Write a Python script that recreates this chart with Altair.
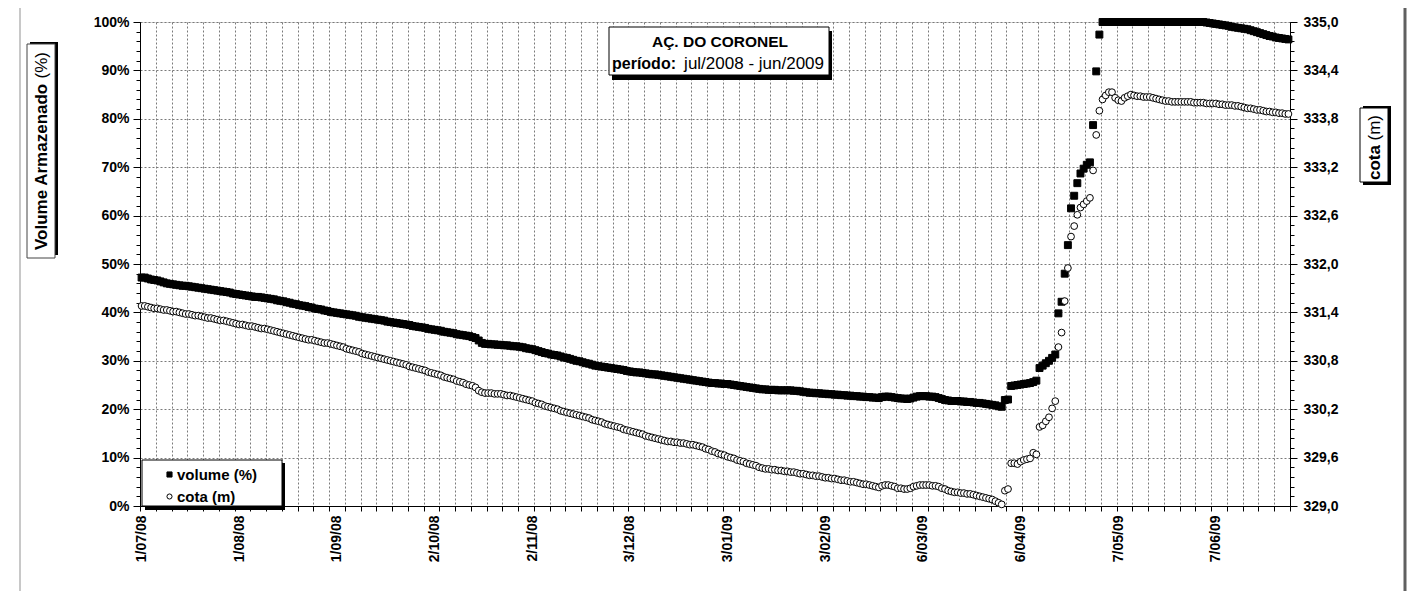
import altair as alt
import pandas as pd

# ---------------- data (daily, 1/07/2008 .. 30/06/2009) ----------------
volume = [
    47.2, 47.2, 47.0, 46.8, 46.7, 46.6, 46.4, 46.2, 46.0, 45.9,
    45.8, 45.7, 45.6, 45.5, 45.5, 45.4, 45.3, 45.2, 45.1, 45.0, 44.9,
    44.8, 44.7, 44.6, 44.5, 44.4, 44.3, 44.2, 44.1, 43.9, 43.8,
    43.7, 43.6, 43.5, 43.4, 43.3, 43.2, 43.2, 43.1, 43.0, 42.9, 42.8,
    42.7, 42.5, 42.4, 42.3, 42.1, 42.0, 41.8, 41.7, 41.5, 41.4,
    41.3, 41.1, 41.0, 40.8, 40.7, 40.6, 40.4, 40.3, 40.1, 40.0, 39.9,
    39.8, 39.7, 39.6, 39.5, 39.4, 39.3, 39.1, 39.0, 38.9, 38.8,
    38.7, 38.6, 38.5, 38.4, 38.3, 38.1, 38.0, 37.9, 37.8, 37.7, 37.6,
    37.5, 37.4, 37.2, 37.1, 37.0, 36.9, 36.8, 36.6, 36.5, 36.4,
    36.3, 36.2, 36.0, 35.9, 35.8, 35.7, 35.5, 35.4, 35.3, 35.2, 35.1,
    34.9, 34.7, 34.2, 33.7, 33.5,
    33.5, 33.4, 33.4, 33.3, 33.3, 33.2, 33.2, 33.1, 33.0, 33.0, 32.9,
    32.8, 32.6, 32.5, 32.4, 32.2,
    32.0, 31.8, 31.6, 31.5, 31.3, 31.2, 31.1, 30.9, 30.7,
    30.6, 30.4, 30.2, 30.0, 29.9, 29.7, 29.5, 29.4, 29.2, 29.0,
    28.9, 28.8, 28.7, 28.6, 28.5, 28.4, 28.3, 28.2, 28.1, 27.9, 27.8,
    27.7, 27.6, 27.6, 27.5, 27.4, 27.3, 27.2, 27.2, 27.1, 27.0, 26.9,
    26.8, 26.7, 26.6, 26.5, 26.4, 26.3, 26.2, 26.1, 26.0, 25.9,
    25.8, 25.7, 25.6, 25.5, 25.4, 25.4, 25.3, 25.3, 25.2, 25.2, 25.1,
    25.0, 24.9, 24.8, 24.7, 24.6, 24.5, 24.4, 24.3, 24.2, 24.1,
    24.1, 24.0, 24.0, 24.0, 23.9, 23.9, 23.9, 23.9, 23.9, 23.8, 23.8,
    23.7, 23.6, 23.5, 23.4, 23.4, 23.3, 23.3, 23.2, 23.2, 23.1,
    23.1, 23.0, 23.0, 22.9, 22.9, 22.8, 22.8, 22.7, 22.7, 22.6, 22.6,
    22.5, 22.5, 22.4, 22.4, 22.3, 22.5, 22.6, 22.6, 22.5, 22.4, 22.3,
    22.2, 22.2, 22.1, 22.2, 22.4, 22.6, 22.7, 22.7,
    22.7, 22.6, 22.6, 22.5, 22.3, 22.1, 21.9, 21.8, 21.7, 21.7,
    21.7, 21.6, 21.6, 21.5, 21.5, 21.4, 21.3, 21.3,
    21.2, 21.1, 21.0, 20.9, 20.8, 20.6, 20.5,
    21.9, 22.0,
    24.8, 24.9, 25.0, 25.1, 25.2, 25.3, 25.4, 25.6, 25.9,
    28.5, 29.0, 29.5, 30.0, 30.6, 31.3,
    39.8, 42.2, 48.0, 53.9, 61.5, 64.1, 66.7, 68.7, 69.7, 70.5, 71.0, 78.7, 89.8, 97.4, 100.0,
    100.0, 100.0, 100.0, 100.0, 100.0, 100.0, 100.0, 100.0, 100.0, 100.0,
    100.0, 100.0, 100.0, 100.0, 100.0, 100.0, 100.0, 100.0, 100.0, 100.0,
    100.0, 100.0, 100.0, 100.0, 100.0, 100.0, 100.0, 100.0, 100.0, 100.0,
    100.0, 100.0,
    99.9, 99.8, 99.7, 99.6, 99.5, 99.4, 99.3, 99.2, 99.0, 98.9, 98.8, 98.7, 98.6, 98.5,
    98.3, 98.1, 97.9, 97.7, 97.5, 97.3, 97.1, 97.0, 96.8, 96.7, 96.6, 96.5, 96.4,
]

cota = [
    331.48, 331.48, 331.47, 331.46, 331.45, 331.45, 331.44, 331.43, 331.43, 331.42,
    331.41, 331.41, 331.40, 331.39, 331.38, 331.38, 331.37, 331.36, 331.36, 331.35, 331.34,
    331.33, 331.33, 331.32, 331.31, 331.30, 331.30, 331.29, 331.28, 331.27, 331.26,
    331.25, 331.25, 331.24, 331.23, 331.23, 331.22, 331.21, 331.20, 331.20, 331.19, 331.18,
    331.17, 331.16, 331.15, 331.14, 331.13, 331.12, 331.11, 331.10, 331.09, 331.08,
    331.07, 331.06, 331.06, 331.05, 331.04, 331.03, 331.02, 331.02, 331.01, 331.00, 330.99,
    330.98, 330.97, 330.95, 330.94, 330.93, 330.92, 330.91, 330.89, 330.88, 330.87,
    330.86, 330.85, 330.84, 330.83, 330.82, 330.81, 330.80, 330.79, 330.78, 330.77, 330.76,
    330.75, 330.73, 330.72, 330.71, 330.70, 330.69, 330.68, 330.66, 330.65, 330.64,
    330.63, 330.62, 330.60, 330.59, 330.58, 330.57, 330.55, 330.54, 330.53, 330.51, 330.50,
    330.49, 330.47, 330.43, 330.41, 330.40,
    330.40, 330.40, 330.39, 330.39, 330.39, 330.38, 330.37, 330.37, 330.36, 330.35, 330.34,
    330.33, 330.32, 330.31, 330.30, 330.28,
    330.27, 330.26, 330.24, 330.23, 330.22, 330.21, 330.20, 330.18, 330.17,
    330.16, 330.15, 330.14, 330.13, 330.12, 330.11, 330.10, 330.09, 330.07, 330.06,
    330.05, 330.04, 330.02, 330.01, 330.00, 329.99, 329.98, 329.97, 329.95, 329.94, 329.93,
    329.92, 329.91, 329.90, 329.89, 329.87, 329.86, 329.85, 329.84, 329.83, 329.82, 329.81,
    329.80, 329.80, 329.79, 329.79, 329.78, 329.78, 329.77, 329.76, 329.76, 329.75,
    329.74, 329.73, 329.71, 329.70, 329.68, 329.67, 329.65, 329.64, 329.63, 329.61, 329.60,
    329.59, 329.57, 329.56, 329.55, 329.53, 329.52, 329.51, 329.50, 329.48, 329.47,
    329.46, 329.46, 329.45, 329.45, 329.44, 329.44, 329.43, 329.43, 329.42, 329.42, 329.41,
    329.40, 329.40, 329.39, 329.38, 329.38, 329.37, 329.37, 329.36, 329.35, 329.35,
    329.34, 329.34, 329.33, 329.32, 329.32, 329.31, 329.30, 329.30, 329.29, 329.28, 329.27,
    329.27, 329.26, 329.25, 329.24, 329.23, 329.25, 329.26, 329.26, 329.25, 329.24, 329.22,
    329.22, 329.21, 329.21, 329.22, 329.24, 329.25, 329.26, 329.26,
    329.26, 329.26, 329.25, 329.25, 329.24, 329.22, 329.21, 329.19, 329.18, 329.17,
    329.17, 329.16, 329.16, 329.15, 329.15, 329.14, 329.13, 329.12,
    329.11, 329.10, 329.09, 329.08, 329.06, 329.04, 329.02,
    329.19, 329.21,
    329.53, 329.53, 329.52, 329.55, 329.57, 329.58, 329.59, 329.66, 329.64,
    329.98, 330.00, 330.05, 330.10, 330.21, 330.30,
    330.97, 331.15, 331.54, 331.95, 332.34, 332.47, 332.61, 332.70, 332.74, 332.78,
    332.82, 333.16, 333.60, 333.90, 334.04,
    334.09, 334.13, 334.13, 334.06, 334.03, 334.02, 334.06, 334.08, 334.10, 334.09,
    334.08, 334.08, 334.07, 334.07, 334.07, 334.06, 334.05, 334.04, 334.03, 334.02,
    334.02, 334.01, 334.01, 334.01, 334.01, 334.01, 334.01, 334.01, 334.00, 334.00,
    334.00, 334.00, 333.99, 333.99, 333.99, 333.99, 333.98, 333.98, 333.97, 333.97,
    333.97, 333.96, 333.96, 333.95, 333.94, 333.93, 333.93, 333.92, 333.91, 333.91,
    333.90, 333.89, 333.89, 333.88, 333.88, 333.87, 333.87, 333.86, 333.86,
]

series_names = ["volume (%)", "cota (m)"]
label_days = [0, 31, 62, 93, 124, 155, 186, 217, 248, 279, 310, 341]
date_labels = ["1/07/08", "1/08/08", "1/09/08", "2/10/08", "2/11/08", "3/12/08",
               "3/01/09", "3/02/09", "6/03/09", "6/04/09", "7/05/09", "7/06/09"]
pct_ticks = [0, 10, 20, 30, 40, 50, 60, 70, 80, 90, 100]
cota_ticks = [329.0, 329.6, 330.2, 330.8, 331.4, 332.0, 332.6, 333.2, 333.8, 334.4, 335.0]
title_1 = "AÇ. DO CORONEL"
title_2a = "período:"
title_2b = "jul/2008 - jun/2009"

# ---------------- build tables ----------------
n = len(volume)
df_v = pd.DataFrame({"day": list(range(n)), "valor": volume, "serie": series_names[0]})
df_c = pd.DataFrame({"day": list(range(len(cota))), "valor": cota, "serie": series_names[1]})

grid_days = [5 * k - 0.5 for k in range(74)]
minor_pct = list(range(0, 101, 2))
minor_cota = [round(329 + 0.12 * k, 2) for k in range(51)]

F = "Liberation Sans"
GRID = "#7a7a7a"

xscale = alt.Scale(domain=[-0.5, 364.5], nice=False, zero=False)
yscale_v = alt.Scale(domain=[0, 100], nice=False, zero=False)
yscale_c = alt.Scale(domain=[329, 335], nice=False, zero=False)

leg = alt.Legend(title=None, orient="none", legendX=22, legendY=445, padding=0,
                 labelFont=F, labelFontWeight="bold", labelFontSize=15, labelColor="black",
                 symbolSize=26, symbolStrokeColor="black", symbolStrokeWidth=1,
                 rowPadding=6, labelOffset=0)
shape_enc = alt.Shape("serie:N", scale=alt.Scale(domain=series_names, range=["square", "circle"]), legend=leg)
fill_enc = alt.Fill("serie:N", scale=alt.Scale(domain=series_names, range=["#000000", "#ffffff"]), legend=leg)
stroke_enc = alt.Stroke("serie:N", scale=alt.Scale(domain=series_names, range=["#000000", "#000000"]), legend=leg)

arr_days = "[" + ",".join(str(d) for d in label_days) + "]"
arr_labels = "[" + ",".join("'" + s + "'" for s in date_labels) + "]"
x_label_expr = arr_labels + "[indexof(" + arr_days + ", datum.value)]"

vol_layer = alt.Chart(df_v).mark_point(size=48, strokeWidth=1, opacity=1).encode(
    x=alt.X("day:Q", scale=xscale, axis=alt.Axis(
        orient="bottom", values=grid_days, labels=False, title=None, grid=True, gridDash=[2, 2],
        gridColor=GRID, gridWidth=1, ticks=True, tickSize=5, tickColor="black",
        domain=True, domainColor="black", domainWidth=1)),
    y=alt.Y("valor:Q", scale=yscale_v, axis=alt.Axis(
        orient="left", values=pct_ticks, labelExpr="datum.value + '%'", title=None,
        grid=True, gridDash=[2, 2], gridColor=GRID, gridWidth=1,
        ticks=True, tickSize=7, tickColor="black", domain=True, domainColor="black",
        labelFont=F, labelFontWeight="bold", labelFontSize=14, labelColor="black",
        labelPadding=4)),
    shape=shape_enc,
    fill=fill_enc,
    stroke=stroke_enc,
)

cota_layer = alt.Chart(df_c).mark_point(size=46, strokeWidth=1, opacity=1).encode(
    x=alt.X("day:Q", scale=xscale, axis=alt.Axis(
        orient="bottom", values=label_days, labelExpr=x_label_expr, labelAngle=270, title=None,
        grid=False, ticks=False, domain=False, labelPadding=9,
        labelFont=F, labelFontWeight="bold", labelFontSize=14, labelColor="black",
        labelOverlap=False)),
    y=alt.Y("valor:Q", scale=yscale_c, axis=alt.Axis(
        orient="right", values=cota_ticks,
        labelExpr="replace(format(datum.value, '.1f'), '.', ',')", title=None,
        grid=False, ticks=True, tickSize=7, tickColor="black", domain=True,
        domainColor="black", labelFont=F, labelFontWeight="bold", labelFontSize=14,
        labelColor="black", labelPadding=6)),
    shape=shape_enc,
    fill=fill_enc,
    stroke=stroke_enc,
)

minor_left = alt.Chart(df_v).mark_point(opacity=0).encode(
    x=alt.X("day:Q", scale=xscale, axis=None),
    y=alt.Y("valor:Q", scale=yscale_v, axis=alt.Axis(
        orient="left", values=minor_pct, labels=False, title=None, grid=False,
        ticks=True, tickSize=4, tickColor="black", domain=False)),
)
minor_right = alt.Chart(df_c).mark_point(opacity=0).encode(
    x=alt.X("day:Q", scale=xscale, axis=None),
    y=alt.Y("valor:Q", scale=yscale_c, axis=alt.Axis(
        orient="right", values=minor_cota, labels=False, title=None, grid=False,
        ticks=True, tickSize=4, tickColor="black", domain=False)),
)

one = pd.DataFrame({"k": [0]})


def box(x1, x2, y1, y2, fill, stroke=None):
    kw = {"fill": fill}
    if stroke:
        kw.update(stroke=stroke, strokeWidth=1)
    return alt.Chart(one).mark_rect(**kw).encode(
        x=alt.value(x1), x2=alt.value(x2), y=alt.value(y1), y2=alt.value(y2))


def txt(s, x, y, size, weight="bold", align="center", angle=0, font=F):
    return alt.Chart(one).mark_text(
        text=s, font=font, fontSize=size, fontWeight=weight, align=align,
        baseline="middle", angle=angle, color="black").encode(
        x=alt.value(x), y=alt.value(y))


def rule(x1, x2, y1, y2, color, w):
    return alt.Chart(one).mark_rule(color=color, strokeWidth=w).encode(
        x=alt.value(x1), x2=alt.value(x2), y=alt.value(y1), y2=alt.value(y2))


annotations = [
    # outer frame
    rule(-120, -120, -22, 577, "#c8c8c8", 2),
    rule(-120, 1265, -18, -18, "#c0c0c0", 1),
    rule(1265, 1265, -18, 577, "#606060", 3),
    # title box
    box(472, 692, 9, 58, "#000000"),
    box(469, 689, 5, 53, "#ffffff", "#000000"),
    txt(title_1, 580, 20, 15.5),
    txt(title_2a, 472, 42, 16, align="left"),
    txt(title_2b, 684, 42, 17, weight="normal", align="right"),
    # legend box
    box(5, 145, 441, 488, "#000000"),
    box(2, 142, 438, 484, "#ffffff", "#000000"),
    # left axis title
    box(-110, -82, 20, 233, "#000000"),
    box(-113, -85, 22, 236, "#ffffff", "#444444"),
    txt("Volume Armazenado", -98, 228, 17, align="left", angle=270),
    txt("(%)", -98, 30, 17, weight="normal", align="right", angle=270),
    # right axis title
    box(1223, 1251, 84, 163, "#000000"),
    box(1220, 1248, 86, 160, "#ffffff", "#000000"),
    txt("cota", 1235, 158, 17, align="left", angle=270),
    txt("(m)", 1235, 93, 17, weight="normal", align="right", angle=270),
]

chart = alt.layer(
    minor_left, minor_right, vol_layer, cota_layer, *annotations
).resolve_scale(
    x="independent", y="independent"
).properties(
    width=1150, height=484,
    autosize=alt.AutoSizeParams(type="none"),
    padding={"left": 132, "top": 14, "right": 125, "bottom": 85},
).configure_view(stroke=None).configure(background="white")

chart.save("out.html", embed_options={"renderer": "svg", "actions": False})
